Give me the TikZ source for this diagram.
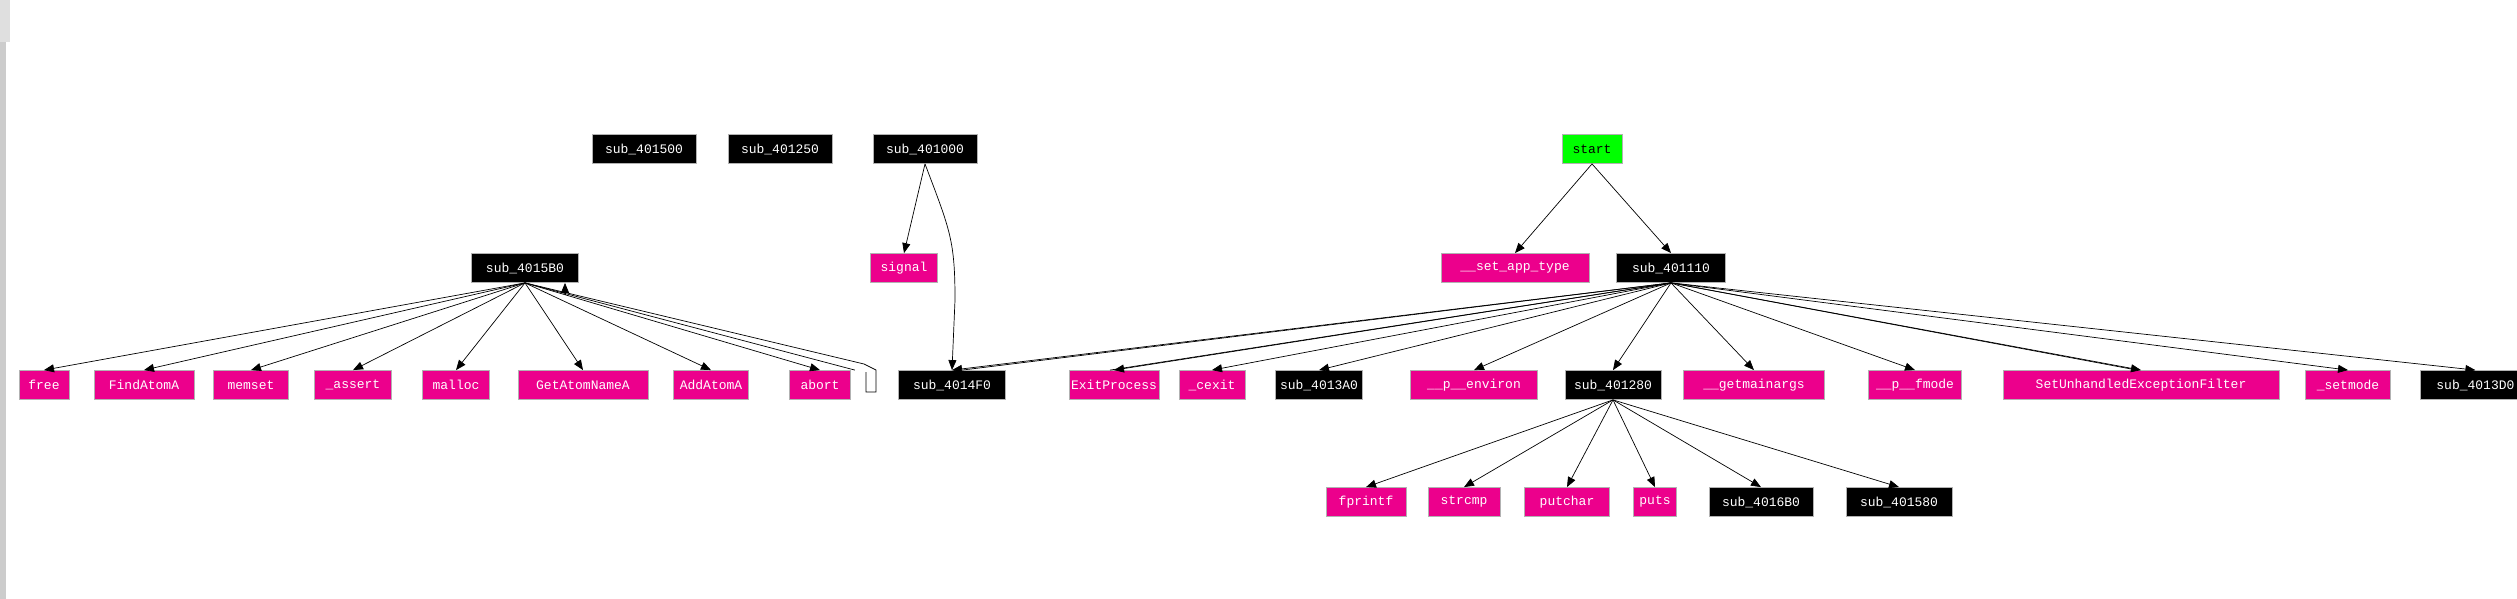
\documentclass[tikz,border=0pt]{standalone}
\usepackage{fontspec}
\setmonofont{Liberation Mono}
\usetikzlibrary{arrows.meta}
\begin{document}
\begin{tikzpicture}[x=1pt,y=-1pt,
 box/.style={draw=gray!60,line width=0.8pt,minimum height=29pt,inner sep=2pt,font=\fontsize{13}{13}\selectfont\ttfamily,text=white},
 fn/.style={box,fill=black},
 api/.style={box,fill=magenta},
 st/.style={box,fill=green,text=black},
 e/.style={-{Triangle[length=10pt,width=8pt]},line width=0.7pt}]
\useasboundingbox (0,0) rectangle (2517,599);
\fill[gray!40] (0,0) rectangle (6,599);
\fill[gray!25] (0,0) rectangle (10,42);
% row 1
\node[fn,minimum width=104] (a500) at (644,149) {sub\_401500};
\node[fn,minimum width=104] (a250) at (780,149) {sub\_401250};
\node[fn,minimum width=104] (a000) at (925,149) {sub\_401000};
\node[st,minimum width=60] (start) at (1592,149) {start};
% row 2
\node[fn,minimum width=107] (a5b0) at (525,268) {sub\_4015B0};
\node[api,minimum width=67] (signal) at (904,268) {signal};
\node[api,minimum width=148] (sat) at (1515,268) {\_\_set\_app\_type};
\node[fn,minimum width=109] (a110) at (1671,268) {sub\_401110};
% row 3
\node[api,minimum width=50] (free) at (44,385) {free};
\node[api,minimum width=100] (find) at (144,385) {FindAtomA};
\node[api,minimum width=75] (memset) at (251,385) {memset};
\node[api,minimum width=77] (assert) at (353,385) {\_assert};
\node[api,minimum width=67] (malloc) at (456,385) {malloc};
\node[api,minimum width=130] (getatom) at (583,385) {GetAtomNameA};
\node[api,minimum width=75] (addatom) at (711,385) {AddAtomA};
\node[api,minimum width=61] (abort) at (820,385) {abort};
\coordinate (loop) at (868,385);
\node[fn,minimum width=107] (a4f0) at (952,385) {sub\_4014F0};
\node[api,minimum width=77] (exitp) at (1114,385) {ExitProcess};
\node[api,minimum width=66] (cexit) at (1212,385) {\_cexit};
\node[fn,minimum width=87] (a3a0) at (1319,385) {sub\_4013A0};
\node[api,minimum width=127] (env) at (1474,385) {\_\_p\_\_environ};
\node[fn,minimum width=96] (a280) at (1613,385) {sub\_401280};
\node[api,minimum width=141] (gma) at (1754,385) {\_\_getmainargs};
\node[api,minimum width=93] (fmode) at (1915,385) {\_\_p\_\_fmode};
\node[api,minimum width=276] (sue) at (2141,385) {SetUnhandledExceptionFilter};
\node[api,minimum width=85] (setmode) at (2348,385) {\_setmode};
\node[fn,minimum width=110,anchor=west] (a3d0) at (2420,385) {sub\_4013D0};
% row 4
\node[api,minimum width=80] (fprintf) at (1366,502) {fprintf};
\node[api,minimum width=72] (strcmp) at (1464,502) {strcmp};
\node[api,minimum width=85] (putchar) at (1567,502) {putchar};
\node[api,minimum width=43] (puts) at (1655,502) {puts};
\node[fn,minimum width=104] (a6b0) at (1761,502) {sub\_4016B0};
\node[fn,minimum width=106] (a580) at (1899,502) {sub\_401580};
% edges
\draw[e] (a000.south) -- (signal.north);
\draw[e] (a000.south) .. controls (950,230) and (955,240) .. (955,300) -- (a4f0.north);
\draw[e] (start.south) -- (sat.north);
\draw[e] (start.south) -- (a110.north);
\foreach \t in {free,find,memset,assert,malloc,getatom,addatom,abort}
  \draw[e] (a5b0.south) -- (\t.north);
\draw[line width=0.7pt] (a5b0.south) -- ([xshift=4pt]abort.north east);
\draw[line width=0.7pt] (a5b0.south) -- (864,364) -- (876,370) -- (876,392) -- (866,392) -- (866,372);
\draw[e] ([xshift=40pt]a5b0.south) ++(0,12) -- ([xshift=40pt]a5b0.south);
\foreach \t in {a4f0,exitp,cexit,a3a0,env,a280,gma,fmode,sue,setmode,a3d0}
  \draw[e] (a110.south) -- (\t.north);
\draw[line width=0.7pt] (a110.south) -- ([xshift=10pt]a4f0.north);
\draw[line width=0.7pt] (a110.south) -- ([xshift=-4pt]exitp.north);
\draw[line width=0.7pt] (a110.south) -- ([xshift=-4pt]sue.north);
\foreach \t in {fprintf,strcmp,putchar,puts,a6b0,a580}
  \draw[e] (a280.south) -- (\t.north);
\end{tikzpicture}
\end{document}
